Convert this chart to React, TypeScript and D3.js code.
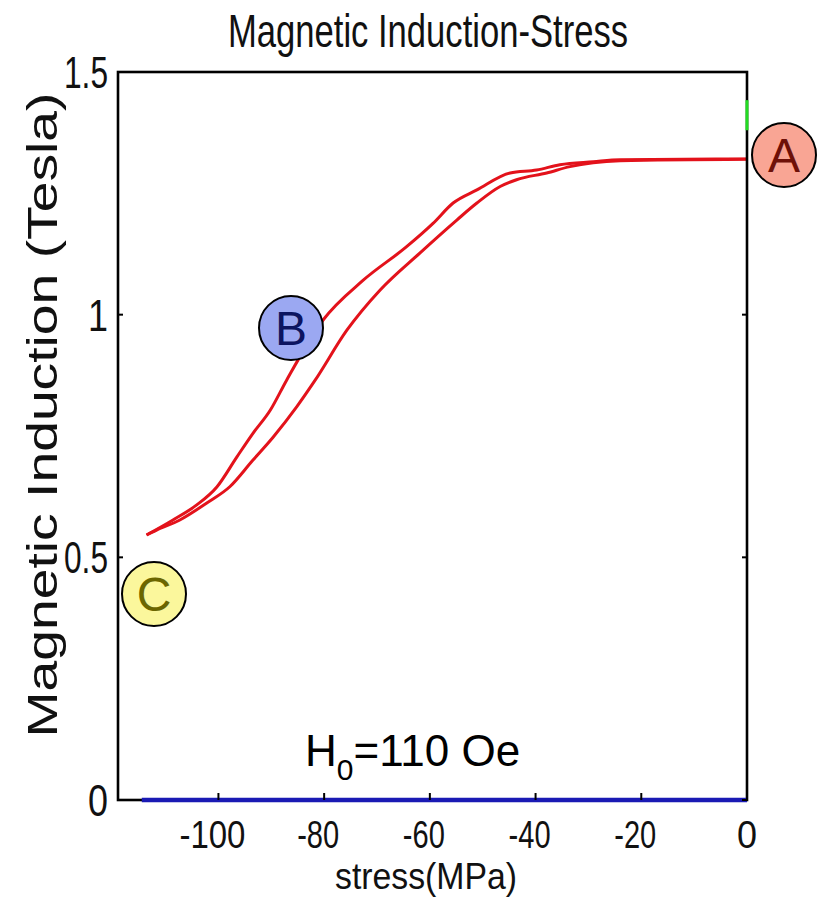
import React from "react";
import * as d3 from "d3";

// Branch 1 (upper / left branch of the loop), from 0 MPa down to the most compressive stress
const upperStress = [0, -24.0, -29.1, -35.4, -39.8, -44.8, -51.1, -55.6, -59.4, -64.4, -72.6, -80.2, -87.1, -90.2, -93.5, -96.5, -100.3, -104.1, -108.6, -113.6];
const upperB = [1.321, 1.319, 1.315, 1.309, 1.298, 1.292, 1.257, 1.23, 1.188, 1.14, 1.071, 0.989, 0.865, 0.803, 0.755, 0.707, 0.645, 0.608, 0.577, 0.546];
// Branch 2 (lower / right branch), from the most compressive stress back to 0 MPa
const lowerStress = [-113.6, -111.7, -107.3, -102.2, -97.8, -93.5, -89.7, -85.2, -81.7, -75.7, -69.4, -61.9, -54.9, -51.1, -46.7, -43.6, -37.9, -33.5, -29.1, -24.0, 0];
const lowerB = [0.546, 0.556, 0.577, 0.612, 0.646, 0.7, 0.747, 0.81, 0.865, 0.968, 1.051, 1.127, 1.195, 1.23, 1.264, 1.278, 1.292, 1.305, 1.313, 1.317, 1.32];
// Blue zero trace and green trace at 0 MPa
const blueStress = [-114.5, 0];
const blueB = [0, 0];
const greenStress = [0, 0];
const greenB = [1.38, 1.442];

const xTicks = [-100, -80, -60, -40, -20, 0];
const yTicks = [0, 0.5, 1, 1.5];
const yTickLabels = ["0", "0.5", "1", "1.5"];

const W = 825;
const H = 898;
const left = 118;
const right = 747;
const top = 72;
const bottom = 800;

export default function App() {
  const x = d3.scaleLinear().domain([-119, 0]).range([left, right]);
  const y = d3.scaleLinear().domain([0, 1.5]).range([bottom, top]);

  const upperPts = upperStress.map((s, i) => [s, upperB[i]] as [number, number]);
  const lowerPts = lowerStress.map((s, i) => [s, lowerB[i]] as [number, number]);
  const line = d3
    .line<[number, number]>()
    .x((d) => x(d[0]))
    .y((d) => y(d[1]))
    .curve(d3.curveMonotoneX);
  const straight = d3
    .line<[number, number]>()
    .x((d) => x(d[0]))
    .y((d) => y(d[1]));

  const bluePts = blueStress.map((s, i) => [s, blueB[i]] as [number, number]);
  const greenPts = greenStress.map((s, i) => [s, greenB[i]] as [number, number]);

  const font = "Liberation Sans, Arial, Helvetica, sans-serif";

  return (
    <svg
      width={W}
      height={H}
      style={{ position: "absolute", left: 0, top: 0, background: "#fff" }}
      fontFamily={font}
    >
      <rect x={0} y={0} width={W} height={H} fill="#fff" />
      {/* title */}
      <text x={428} y={47} fontSize={47} textAnchor="middle" textLength={400} lengthAdjust="spacingAndGlyphs" fill="#111">
        Magnetic Induction-Stress
      </text>

      {/* data */}
      <path d={line(upperPts) || ""} fill="none" stroke="#e3121b" strokeWidth={3} strokeLinejoin="round" />
      <path d={line(lowerPts) || ""} fill="none" stroke="#e3121b" strokeWidth={3} strokeLinejoin="round" />

      {/* axes box */}
      <rect x={left} y={top} width={right - left} height={bottom - top} fill="none" stroke="#000" strokeWidth={2.6} />
      <path d={straight(bluePts) || ""} fill="none" stroke="#1a1ab4" strokeWidth={4.5} />
      <path d={straight(greenPts) || ""} fill="none" stroke="#22dd22" strokeWidth={3} />

      {/* x ticks */}
      {xTicks.map((t) => (
        <g key={"x" + t}>
          <line x1={x(t)} x2={x(t)} y1={bottom} y2={bottom - 7} stroke="#000" strokeWidth={2} />
          <text
            x={x(t) - (t < 0 ? 6 : 0)}
            y={848}
            fontSize={38}
            textAnchor="middle"
            textLength={t === 0 ? 20 : t === -100 ? 66 : 42}
            lengthAdjust="spacingAndGlyphs"
            fill="#111"
          >
            {String(t)}
          </text>
        </g>
      ))}

      {/* y ticks */}
      {yTicks.map((t, i) => (
        <g key={"y" + t}>
          <line x1={left} x2={left + 5} y1={y(t)} y2={y(t)} stroke="#000" strokeWidth={2} />
          <line x1={right} x2={right - 5} y1={y(t)} y2={y(t)} stroke="#000" strokeWidth={2} />
          <text
            x={108}
            y={y(t) + 16}
            fontSize={44}
            textAnchor="end"
            textLength={yTickLabels[i].length === 1 ? 20 : 44}
            lengthAdjust="spacingAndGlyphs"
            fill="#111"
          >
            {yTickLabels[i]}
          </text>
        </g>
      ))}

      {/* axis labels */}
      <text x={426} y={889} fontSize={36} textAnchor="middle" textLength={182} lengthAdjust="spacingAndGlyphs" fill="#111">
        stress(MPa)
      </text>
      <text
        transform="translate(57,415) rotate(-90)"
        fontSize={42}
        textAnchor="middle"
        textLength={645}
        lengthAdjust="spacingAndGlyphs"
        fill="#111"
      >
        Magnetic Induction (Tesla)
      </text>

      {/* annotation */}
      <text x={305} y={766} fontSize={44} fill="#000">
        H<tspan fontSize={30} dy={14}>0</tspan>
        <tspan dy={-14}>=110 Oe</tspan>
      </text>

      {/* markers */}
      <g>
        <circle cx={784} cy={155} r={32} fill="#f9a594" stroke="#000" strokeWidth={2} />
        <text x={784} y={172} fontSize={48} textAnchor="middle" fill="#6e1008">A</text>
        <circle cx={291} cy={328} r={32} fill="#9ba8f2" stroke="#000" strokeWidth={2} />
        <text x={291} y={345} fontSize={48} textAnchor="middle" fill="#0c1460">B</text>
        <circle cx={154} cy={594} r={32} fill="#fbf79c" stroke="#000" strokeWidth={2} />
        <text x={154} y={611} fontSize={48} textAnchor="middle" fill="#6b6600">C</text>
      </g>
    </svg>
  );
}
